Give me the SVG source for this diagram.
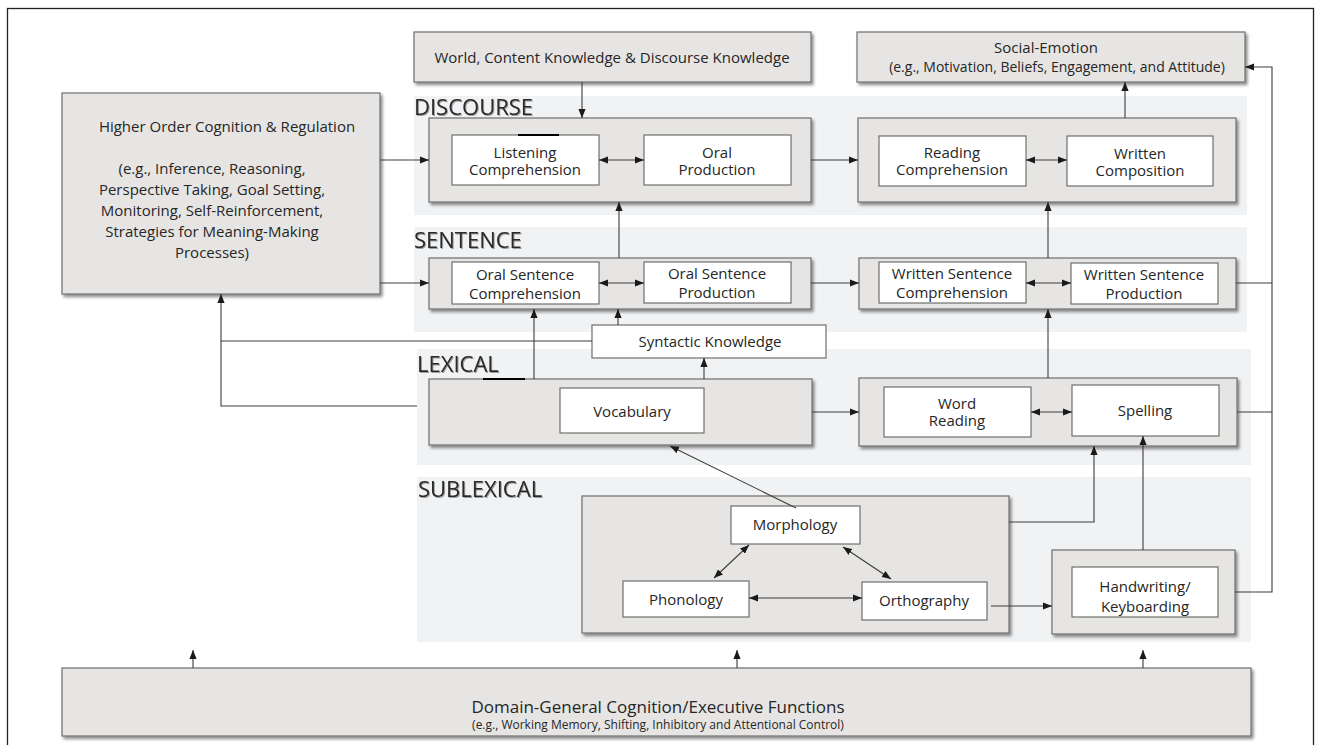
<svg xmlns="http://www.w3.org/2000/svg" width="1318" height="745" viewBox="0 0 1318 745">
<defs>
<filter id="sh" x="-5%" y="-10%" width="112%" height="130%">
<feDropShadow dx="2" dy="2.5" stdDeviation="1.4" flood-color="#000" flood-opacity="0.45"/>
</filter>
<filter id="tsh" x="-5%" y="-20%" width="115%" height="150%">
<feDropShadow dx="1" dy="1" stdDeviation="0.7" flood-color="#000" flood-opacity="0.35"/>
</filter>
<marker id="ah" viewBox="0 0 10 8" markerWidth="9" markerHeight="7.5" refX="10" refY="4" orient="auto-start-reverse" markerUnits="userSpaceOnUse">
<path d="M0,0 L10,4 L0,8 Z" fill="#1a1a1a"/>
</marker>
<style>
.band{fill:#f1f2f4}
.outer{fill:#e6e5e3;stroke:#6e6e6e;stroke-width:1.2;filter:url(#sh)}
.inner{fill:#ffffff;stroke:#6e6e6e;stroke-width:1.2}
.t{font-family:"Open Sans","Noto Sans",sans-serif;font-size:15px;fill:#262626;text-anchor:middle}
.s14{font-size:14px}
.lvl{font-family:"Open Sans","Noto Sans",sans-serif;font-size:22px;fill:#2a2a2a;filter:url(#tsh)}
.c{fill:none;stroke:#3c3c3c;stroke-width:1.1}
.a{marker-end:url(#ah)}
.d{marker-start:url(#ah);marker-end:url(#ah)}
</style>
</defs>
<rect x="0" y="0" width="1318" height="745" fill="#ffffff"/>
<rect x="7.5" y="8.5" width="1306" height="745" fill="none" stroke="#222" stroke-width="1.3"/>

<g id="bands">
<rect class="band" x="414" y="96" width="833" height="119"/>
<rect class="band" x="414" y="227" width="833" height="105"/>
<rect class="band" x="417" y="349" width="834" height="116"/>
<rect class="band" x="417" y="477" width="834" height="165"/>
<text class="lvl" x="414" y="115">DISCOURSE</text>
<text class="lvl" x="414" y="248">SENTENCE</text>
<text class="lvl" x="417" y="372">LEXICAL</text>
<text class="lvl" x="418" y="497">SUBLEXICAL</text>
</g>

<g id="world">
<rect class="outer" x="414" y="32" width="397" height="50"/>
<text class="t" x="612" y="63">World, Content Knowledge &amp; Discourse Knowledge</text>
</g>
<g id="social">
<rect class="outer" x="857" y="32" width="388" height="50"/>
<text class="t" x="1046" y="53">Social-Emotion</text>
<text class="t s14" x="1057" y="72">(e.g., Motivation, Beliefs, Engagement, and Attitude)</text>
</g>
<g id="higher">
<rect class="outer" x="62" y="93" width="318" height="201"/>
<text class="t" x="227" y="132">Higher Order Cognition &amp; Regulation</text>
<text class="t" x="212" y="174">(e.g., Inference, Reasoning,</text>
<text class="t" x="212" y="195">Perspective Taking, Goal Setting,</text>
<text class="t" x="212" y="216">Monitoring, Self-Reinforcement,</text>
<text class="t" x="212" y="237">Strategies for Meaning-Making</text>
<text class="t" x="212" y="258">Processes)</text>
</g>

<g id="oral-discourse">
<rect class="outer" x="429" y="118" width="382" height="84"/>
</g>
<g id="listening">
<rect class="inner" x="452" y="135" width="147" height="50"/>
<text class="t" x="525" y="158">Listening</text>
<text class="t" x="525" y="175">Comprehension</text>
</g>
<line x1="518" y1="135" x2="559" y2="135" stroke="#000" stroke-width="2"/>
<g id="oral-production">
<rect class="inner" x="644" y="135" width="147" height="50"/>
<text class="t" x="717" y="158">Oral</text>
<text class="t" x="717" y="175">Production</text>
</g>

<g id="written-discourse">
<rect class="outer" x="858" y="118" width="378" height="84"/>
</g>
<g id="reading-comp">
<rect class="inner" x="879" y="136" width="147" height="50"/>
<text class="t" x="952" y="158">Reading</text>
<text class="t" x="952" y="175">Comprehension</text>
</g>
<g id="written-comp">
<rect class="inner" x="1067" y="136" width="146" height="50"/>
<text class="t" x="1140" y="159">Written</text>
<text class="t" x="1140" y="176">Composition</text>
</g>

<g id="oral-sentence">
<rect class="outer" x="429" y="258" width="382" height="51"/>
</g>
<g id="oral-sent-comp">
<rect class="inner" x="452" y="262" width="147" height="42"/>
<text class="t" x="525" y="280">Oral Sentence</text>
<text class="t" x="525" y="299">Comprehension</text>
</g>
<g id="oral-sent-prod">
<rect class="inner" x="644" y="262" width="147" height="41"/>
<text class="t" x="717" y="279">Oral Sentence</text>
<text class="t" x="717" y="298">Production</text>
</g>

<g id="written-sentence">
<rect class="outer" x="859" y="258" width="377" height="51"/>
</g>
<g id="written-sent-comp">
<rect class="inner" x="879" y="262" width="147" height="41"/>
<text class="t" x="952" y="279">Written Sentence</text>
<text class="t" x="952" y="298">Comprehension</text>
</g>
<g id="written-sent-prod">
<rect class="inner" x="1071" y="263" width="147" height="41"/>
<text class="t" x="1144" y="280">Written Sentence</text>
<text class="t" x="1144" y="299">Production</text>
</g>

<g id="syntactic">
<rect class="inner" x="592" y="325" width="234" height="33"/>
<text class="t" x="710" y="347">Syntactic Knowledge</text>
</g>

<g id="lexical-oral">
<rect class="outer" x="429" y="379" width="383" height="66"/>
</g>
<line x1="483" y1="379" x2="525" y2="379" stroke="#000" stroke-width="2"/>
<g id="vocabulary">
<rect class="inner" x="560" y="388" width="144" height="45"/>
<text class="t" x="632" y="417">Vocabulary</text>
</g>

<g id="lexical-written">
<rect class="outer" x="859" y="378" width="378" height="68"/>
</g>
<g id="word-reading">
<rect class="inner" x="884" y="387" width="147" height="50"/>
<text class="t" x="957" y="409">Word</text>
<text class="t" x="957" y="426">Reading</text>
</g>
<g id="spelling">
<rect class="inner" x="1072" y="385" width="147" height="51"/>
<text class="t" x="1145" y="416">Spelling</text>
</g>

<g id="sublexical-group">
<rect class="outer" x="582" y="496" width="427" height="137"/>
</g>
<g id="morphology">
<rect class="inner" x="731" y="506" width="129" height="38"/>
<text class="t" x="795" y="530">Morphology</text>
</g>
<g id="phonology">
<rect class="inner" x="623" y="581" width="126" height="36"/>
<text class="t" x="686" y="605">Phonology</text>
</g>
<g id="orthography">
<rect class="inner" x="862" y="582" width="125" height="38"/>
<text class="t" x="924" y="606">Orthography</text>
</g>

<g id="handwriting-group">
<rect class="outer" x="1052" y="550" width="183" height="84"/>
</g>
<g id="handwriting">
<rect class="inner" x="1072" y="567" width="146" height="50"/>
<text class="t" x="1145" y="592">Handwriting/</text>
<text class="t" x="1145" y="612">Keyboarding</text>
</g>

<g id="domain-general">
<rect class="outer" x="62" y="668" width="1189" height="68"/>
<text class="t" x="658" y="713" style="font-size:17px">Domain-General Cognition/Executive Functions</text>
<text class="t" x="658" y="729" style="font-size:12px">(e.g., Working Memory, Shifting, Inhibitory and Attentional Control)</text>
</g>

<g id="connectors">
<path class="c a" d="M582,82 V118"/>
<path class="c a" d="M380,160 H429"/>
<path class="c d" d="M599,160 H644"/>
<path class="c a" d="M811,160 H858"/>
<path class="c d" d="M1026,160 H1067"/>
<path class="c a" d="M1125,118 V82"/>
<path class="c a" d="M380,283 H429"/>
<path class="c d" d="M599,283 H644"/>
<path class="c a" d="M811,283 H859"/>
<path class="c d" d="M1026,283 H1071"/>
<path class="c a" d="M619,258 V202"/>
<path class="c a" d="M1048,258 V202"/>
<path class="c" d="M1236,283 H1272"/>
<path class="c a" d="M618,325 V309"/>
<path class="c a" d="M592,341 H221 V294"/>
<path class="c" d="M417,406 H221 V341"/>
<path class="c a" d="M534,379 V309"/>
<path class="c a" d="M704,379 V358"/>
<path class="c a" d="M812,412 H859"/>
<path class="c d" d="M1031,412 H1072"/>
<path class="c a" d="M1048,378 V309"/>
<path class="c" d="M1237,412 H1272"/>
<path class="c a" d="M796,508 L670,446"/>
<path class="c d" d="M749,545 L714,578"/>
<path class="c d" d="M843,547 L891,579"/>
<path class="c d" d="M749,598 H862"/>
<path class="c a" d="M991,606 H1052"/>
<path class="c a" d="M1009,522 H1094 V446"/>
<path class="c a" d="M1143,550 V436"/>
<path class="c a" d="M1235,592 H1272 V67 H1245"/>
<path class="c a" d="M193,668 V650"/>
<path class="c a" d="M737,668 V650"/>
<path class="c a" d="M1143,668 V650"/>
</g>
</svg>
